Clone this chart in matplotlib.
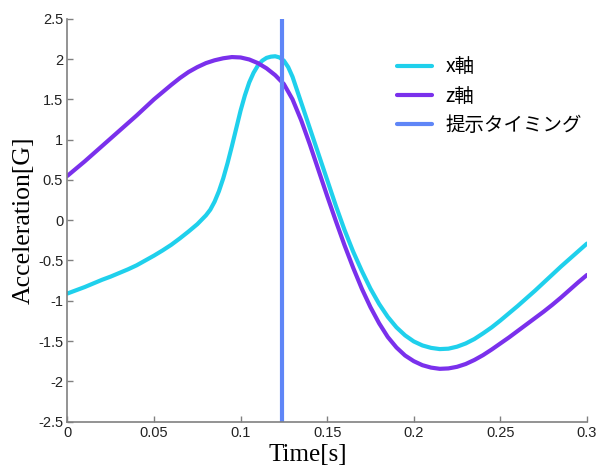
import matplotlib
matplotlib.use("Agg")
import matplotlib.pyplot as plt
from matplotlib.ticker import FuncFormatter

t_x = [0, 0.005, 0.01, 0.015, 0.02, 0.025, 0.03, 0.035, 0.04, 0.045, 0.05, 0.055,
       0.06, 0.065, 0.07, 0.075, 0.08, 0.0825, 0.085, 0.0875, 0.09, 0.0925, 0.095,
       0.0975, 0.10, 0.1025, 0.105, 0.1075, 0.11, 0.1125, 0.115, 0.1175, 0.12,
       0.1225, 0.125, 0.1275, 0.13, 0.1325, 0.135, 0.14, 0.145, 0.15, 0.155, 0.16,
       0.165, 0.17, 0.175, 0.18, 0.185, 0.19, 0.195, 0.20, 0.205, 0.21, 0.215, 0.22,
       0.225, 0.23, 0.235, 0.24, 0.245, 0.25, 0.255, 0.26, 0.265, 0.27, 0.275, 0.28,
       0.285, 0.29, 0.295, 0.30]
acc_x = [-0.91, -0.87, -0.83, -0.785, -0.74, -0.70, -0.655, -0.61, -0.56, -0.50, -0.44, -0.375,
         -0.305, -0.225, -0.14, -0.05, 0.06, 0.13, 0.23, 0.36, 0.52, 0.71, 0.92,
         1.14, 1.36, 1.55, 1.71, 1.83, 1.92, 1.98, 2.015, 2.03, 2.035,
         2.02, 1.98, 1.90, 1.78, 1.62, 1.46, 1.14, 0.82, 0.50, 0.18, -0.12,
         -0.39, -0.63, -0.85, -1.04, -1.20, -1.33, -1.43, -1.505, -1.555, -1.585, -1.60, -1.595,
         -1.57, -1.53, -1.475, -1.405, -1.33, -1.245, -1.155, -1.065, -0.97, -0.875, -0.775, -0.675,
         -0.575, -0.48, -0.385, -0.29]

t_z = [0, 0.005, 0.01, 0.015, 0.02, 0.025, 0.03, 0.035, 0.04, 0.045, 0.05, 0.055,
       0.06, 0.065, 0.07, 0.075, 0.08, 0.085, 0.09, 0.095, 0.10, 0.105, 0.11, 0.115,
       0.12, 0.125, 0.13, 0.135, 0.14, 0.145, 0.15, 0.155, 0.16, 0.165, 0.17, 0.175,
       0.18, 0.185, 0.19, 0.195, 0.20, 0.205, 0.21, 0.215, 0.22, 0.225, 0.23, 0.235,
       0.24, 0.245, 0.25, 0.255, 0.26, 0.265, 0.27, 0.275, 0.28, 0.285, 0.29, 0.295, 0.30]
acc_z = [0.55, 0.64, 0.73, 0.825, 0.92, 1.015, 1.11, 1.205, 1.30, 1.40, 1.50, 1.59,
         1.68, 1.765, 1.84, 1.90, 1.95, 1.985, 2.01, 2.025, 2.02, 1.995, 1.95, 1.885,
         1.80, 1.69, 1.50, 1.24, 0.94, 0.62, 0.30, -0.01, -0.31, -0.59, -0.85, -1.08,
         -1.28, -1.45, -1.58, -1.68, -1.75, -1.80, -1.83, -1.845, -1.84, -1.82, -1.785, -1.735,
         -1.675, -1.605, -1.53, -1.455, -1.375, -1.295, -1.215, -1.135, -1.05, -0.96, -0.865, -0.77, -0.68]

cue_time = 0.124
series_labels = ["x軸", "z軸", "提示タイミング"]
xticks = [0, 0.05, 0.1, 0.15, 0.2, 0.25, 0.3]
yticks = [-2.5, -2, -1.5, -1, -0.5, 0, 0.5, 1, 1.5, 2, 2.5]

fig = plt.figure(figsize=(6.07, 4.70), dpi=100)
ax = fig.add_axes([0.111, 0.103, 0.856, 0.857])

lw = 3.0
ax.plot(t_x, acc_x, color="#1fd0ec", lw=lw, label=series_labels[0],
        solid_capstyle="round", solid_joinstyle="round")
ax.plot(t_z, acc_z, color="#7a30ec", lw=lw, label=series_labels[1],
        solid_capstyle="round", solid_joinstyle="round")
ax.plot([cue_time, cue_time], [yticks[0], yticks[-1]], color="#5f86f7", lw=lw,
        label=series_labels[2], solid_capstyle="round")

ax.set_xlim(0, 0.3)
ax.set_ylim(-2.5, 2.5)
ax.set_xticks(xticks)
ax.set_yticks(yticks)
fmt = FuncFormatter(lambda v, p: ("%g" % v))
ax.xaxis.set_major_formatter(fmt)
ax.yaxis.set_major_formatter(fmt)

for s in ["top", "right"]:
    ax.spines[s].set_visible(False)
for s in ["left", "bottom"]:
    ax.spines[s].set_color("#808080")
    ax.spines[s].set_linewidth(1.2)
ax.tick_params(direction="in", length=4, width=1, color="#808080", labelsize=10.5,
               labelcolor="#222222", pad=3)
for lab in ax.get_xticklabels() + ax.get_yticklabels():
    lab.set_fontfamily("Liberation Sans")

ax.set_xlabel("Time[s]", fontfamily="Liberation Serif", fontsize=18, labelpad=-1)
ax.xaxis.set_label_coords(0.463, -0.055)
ax.set_ylabel("Acceleration[G]", fontfamily="Liberation Serif", fontsize=18.5, labelpad=2)

leg = ax.legend(loc="upper left", bbox_to_anchor=(0.6, 0.95), frameon=False,
                prop={"family": ["Noto Sans CJK JP", "DejaVu Sans"], "size": 14},
                handlelength=1.8, handletextpad=0.7, labelspacing=0.42)

fig.savefig("out.png", dpi=100)
